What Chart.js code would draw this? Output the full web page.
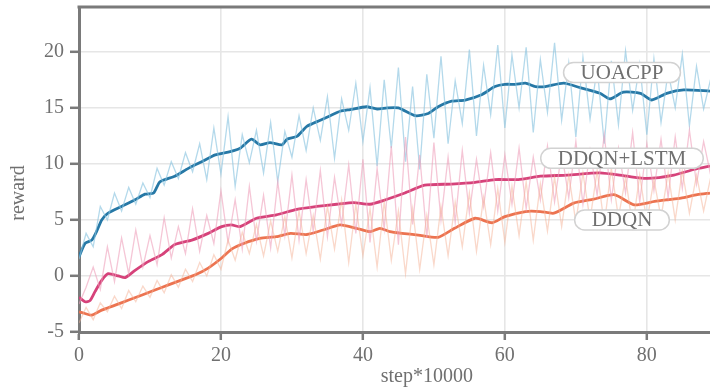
<!DOCTYPE html>
<html>
<head>
<meta charset="utf-8">
<script src="https://cdn.jsdelivr.net/npm/chart.js@4"></script>
<style>
  html, body { margin: 0; padding: 0; background: #fff; }
  #wrap { width: 710px; height: 388px; }
</style>
</head>
<body>
<div id="wrap"><canvas id="c"></canvas></div>
<script>
// 原始資料: 每 1 步 (x10000) 一筆
const steps = Array.from({ length: 90 }, (_, i) => i)

const uoacppRaw = [1.5, 3.8, 2.6, 6.2, 5.0, 7.4, 5.8, 7.9, 6.4, 8.3, 7.0, 9.6, 8.1, 10.2, 8.7, 11.0, 9.3, 11.8, 8.6, 13.2,
  9.1, 14.2, 8.0, 12.6, 10.1, 13.0, 9.2, 13.7, 8.4, 12.9, 10.6, 14.3, 11.2, 15.0, 12.1, 16.0, 10.5, 15.8, 13.0, 17.2,
  12.0, 16.8, 9.8, 17.5, 11.4, 18.6, 10.2, 16.9, 9.5, 18.0, 12.3, 19.6, 11.8, 17.4, 13.6, 20.2, 12.5, 18.8, 14.4, 20.6,
  13.2, 19.7, 15.0, 20.4, 12.8, 19.3, 14.6, 20.8, 13.9, 19.0, 12.4, 19.5, 14.0, 18.6, 11.8, 19.2, 13.5, 20.1, 14.8, 18.9,
  12.6, 19.4, 13.7, 18.2, 15.0, 19.8, 13.4, 18.7, 14.9, 17.6]

const lstmRaw = [-2.5, -1.0, 0.8, -1.2, 2.6, -0.5, 3.4, 0.2, 4.1, 0.8, 3.6, 1.0, 5.2, 1.6, 4.4, 2.0, 6.0, 2.2, 5.4, 2.9,
  7.6, 3.0, 6.8, 2.4, 8.0, 3.1, 7.2, 2.5, 8.4, 3.6, 9.0, 3.2, 8.6, 4.0, 9.4, 3.5, 8.8, 4.6, 9.9, 3.8,
  10.4, 3.0, 9.6, 4.2, 11.6, 2.8, 12.4, 4.6, 10.8, 3.4, 11.9, 5.0, 10.6, 4.8, 11.2, 5.6, 10.4, 6.2, 11.0, 5.8,
  10.8, 6.4, 11.4, 6.0, 10.6, 6.8, 11.6, 6.6, 11.0, 7.0, 12.0, 6.4, 11.2, 7.2, 12.6, 6.8, 11.4, 7.4, 12.8, 6.6,
  11.8, 7.6, 12.2, 7.0, 12.4, 7.8, 13.0, 8.2, 12.0, 9.0]

const ddqnRaw = [-4.2, -2.8, -3.9, -2.4, -3.2, -1.8, -2.9, -1.3, -2.3, -0.9, -1.9, -0.4, -1.5, 0.1, -1.0, 0.6, -0.5, 1.2, 0.0, 1.9,
  0.6, 3.2, 1.4, 3.9, 2.0, 4.6, 1.8, 4.9, 2.2, 5.3, 1.6, 5.8, 2.0, 5.4, 1.5, 6.2, 2.4, 6.8, 1.2, 6.4,
  1.8, 6.0, 0.8, 6.6, 1.4, 5.8, 0.2, 6.0, 0.6, 5.4, 1.0, 6.2, 1.8, 6.6, 2.6, 7.4, 2.2, 7.0, 2.8, 7.8,
  3.0, 8.0, 3.6, 8.4, 3.2, 8.2, 4.0, 8.8, 4.4, 9.0, 4.8, 9.2, 5.0, 9.4, 4.6, 9.6, 5.2, 8.8, 4.4, 9.0,
  4.8, 8.6, 5.2, 9.2, 5.0, 9.4, 5.6, 9.0, 5.8, 8.8]

// 平滑曲線 (x, y)
const uoacppX = [0, 0.85, 1.8, 2.5, 3.2, 4.1, 6.0, 7.9, 9.3, 10.5, 11.4, 13.5, 15.4, 17.3, 19.2, 21.3, 22.7, 24.3, 25.5, 26.9,
  28.6, 29.3, 30.7, 32.1, 34.0, 35.4, 36.8, 38.2, 40.5, 42.0, 43.4, 45.0, 47.4, 49.2, 50.6, 52.5, 54.4, 56.8, 58.6, 60.0,
  61.5, 62.9, 64.3, 65.7, 68.3, 70.6, 73.4, 74.8, 76.7, 79.1, 80.7, 82.8, 85.2, 88.9]
const uoacppY = [1.7, 2.9, 3.2, 4.0, 5.0, 5.6, 6.2, 6.8, 7.3, 7.4, 8.4, 8.9, 9.6, 10.2, 10.8, 11.1, 11.4, 12.2, 11.7, 11.9,
  11.7, 12.2, 12.45, 13.35, 13.9, 14.3, 14.7, 14.85, 15.1, 14.9, 15.0, 15.0, 14.3, 14.5, 15.1, 15.6, 15.7, 16.2, 16.9, 17.1,
  17.1, 17.2, 16.9, 16.9, 17.2, 16.8, 16.3, 15.8, 16.4, 16.3, 15.7, 16.3, 16.6, 16.5]

const lstmX = [0, 0.85, 1.55, 2.25, 3.2, 4.1, 5.55, 6.5, 7.9, 9.8, 11.7, 13.5, 15.9, 18.2, 20.1, 21.5, 22.7, 25.0, 27.8, 30.7,
  33.5, 36.3, 38.7, 41.0, 43.2, 45.9, 48.7, 52.5, 55.8, 58.6, 61.9, 65.0, 68.8, 73.4, 77.2, 80.0, 83.8, 86.6, 88.9]
const lstmY = [-1.9, -2.3, -2.2, -1.4, -0.4, 0.2, 0.0, -0.15, 0.5, 1.3, 1.9, 2.8, 3.2, 3.8, 4.4, 4.55, 4.4, 5.15, 5.45, 5.95,
  6.2, 6.4, 6.55, 6.4, 6.8, 7.4, 8.1, 8.2, 8.35, 8.6, 8.6, 8.9, 9.0, 9.2, 8.9, 8.7, 9.0, 9.5, 9.8]

const ddqnX = [0, 0.85, 1.8, 3.2, 5.1, 7.0, 8.9, 10.7, 12.6, 14.5, 16.4, 18.2, 20.1, 21.5, 23.2, 25.5, 27.8, 29.8, 32.1, 34.4,
  36.8, 39.1, 41.0, 42.4, 43.8, 45.5, 47.8, 50.6, 52.9, 55.8, 58.2, 60.0, 62.9, 65.0, 66.9, 69.7, 72.5, 75.4, 78.2, 81.1,
  82.9, 84.8, 87.1, 88.9]
const ddqnY = [-3.2, -3.35, -3.5, -3.05, -2.6, -2.15, -1.7, -1.25, -0.8, -0.35, 0.1, 0.7, 1.6, 2.4, 2.9, 3.35, 3.5, 3.8, 3.7, 4.1,
  4.55, 4.25, 3.95, 4.25, 3.95, 3.8, 3.65, 3.45, 4.25, 5.15, 4.75, 5.3, 5.75, 5.75, 5.6, 6.5, 6.85, 7.25, 6.35, 6.65,
  6.8, 6.95, 7.25, 7.4]

// 曲線標籤 (名稱, x, y)
const seriesNames = ["UOACPP", "DDQN+LSTM", "DDQN"]
const tagX = [76.5, 76.5, 76.5]
const tagY = [18.15, 10.5, 5.0]

const yTicks = [-5, 0, 5, 10, 15, 20]
const xTicks = [0, 20, 40, 60, 80]

const SERIF = "'Liberation Serif', 'DejaVu Serif', serif"
const AXIS_GRAY = "#7a7a7a"
const TEXT_GRAY = "#707070"

const zip = (xs, ys) => xs.map((x, i) => ({ x, y: ys[i] }))

function rawSet(values, color) {
  return {
    data: zip(steps, values),
    borderColor: color,
    borderWidth: 1.3,
    pointRadius: 0,
    tension: 0,
  }
}

function smoothSet(xs, ys, color) {
  return {
    data: zip(xs, ys),
    borderColor: color,
    borderWidth: 2.8,
    pointRadius: 0,
    tension: 0.2,
  }
}

// 上方邊框 + 軸標題
const framePlugin = {
  id: "frame",
  beforeDatasetsDraw(chart) {
    const { ctx, chartArea } = chart
    ctx.save()
    ctx.strokeStyle = AXIS_GRAY
    ctx.lineWidth = 3
    ctx.beginPath()
    ctx.moveTo(chartArea.left - 1.5, chartArea.top)
    ctx.lineTo(chartArea.right, chartArea.top)
    ctx.stroke()
    ctx.restore()
  },
  afterDraw(chart) {
    const { ctx, scales } = chart
    ctx.save()
    ctx.fillStyle = TEXT_GRAY
    ctx.font = "20px " + SERIF
    ctx.textAlign = "center"
    ctx.textBaseline = "middle"
    ctx.fillText("step*10000", scales.x.getPixelForValue(49), 377)
    ctx.translate(19, 193)
    ctx.rotate(-Math.PI / 2)
    ctx.fillText("reward", 0, 0)
    ctx.restore()
  },
}

// 圓角標籤
const tagPlugin = {
  id: "tags",
  afterDatasetsDraw(chart) {
    const { ctx, scales } = chart
    ctx.save()
    ctx.font = "21px " + SERIF
    ctx.textAlign = "center"
    ctx.textBaseline = "middle"
    seriesNames.forEach((name, i) => {
      const cx = scales.x.getPixelForValue(tagX[i])
      const cy = scales.y.getPixelForValue(tagY[i])
      const w = ctx.measureText(name).width + 34
      const h = 20
      ctx.beginPath()
      ctx.roundRect(cx - w / 2, cy - h / 2, w, h, h / 2)
      ctx.fillStyle = "#ffffff"
      ctx.fill()
      ctx.strokeStyle = "#d2d2d2"
      ctx.lineWidth = 1.5
      ctx.stroke()
      ctx.fillStyle = TEXT_GRAY
      ctx.fillText(name, cx, cy + 1)
    })
    ctx.restore()
  },
}

new Chart(document.getElementById("c"), {
  type: "line",
  data: {
    datasets: [
      rawSet(ddqnRaw, "rgba(246, 178, 150, 0.5)"),
      rawSet(lstmRaw, "rgba(238, 160, 186, 0.6)"),
      rawSet(uoacppRaw, "rgba(140, 196, 224, 0.65)"),
      smoothSet(ddqnX, ddqnY, "#ec7350"),
      smoothSet(lstmX, lstmY, "#d6427a"),
      smoothSet(uoacppX, uoacppY, "#2678a6"),
    ],
  },
  options: {
    responsive: true,
    maintainAspectRatio: false,
    animation: false,
    layout: { padding: { top: 7, right: 0, left: 0, bottom: 0 } },
    plugins: {
      legend: { display: false },
      tooltip: { enabled: false },
    },
    scales: {
      x: {
        type: "linear",
        min: 0,
        max: 88.9,
        afterBuildTicks: (s) => { s.ticks = xTicks.map((v) => ({ value: v })) },
        afterFit: (s) => { s.height = 56; s.paddingLeft = 0; s.paddingRight = 0 },
        ticks: {
          color: TEXT_GRAY,
          font: { family: SERIF, size: 20 },
          padding: 4,
          maxRotation: 0,
        },
        grid: {
          color: "#e6e6e6",
          lineWidth: 1.6,
          tickLength: 8,
          tickColor: AXIS_GRAY,
          tickWidth: 2.5,
        },
        border: { color: AXIS_GRAY, width: 3 },
      },
      y: {
        min: -5,
        max: 24,
        afterBuildTicks: (s) => { s.ticks = yTicks.map((v) => ({ value: v })) },
        afterFit: (s) => { s.width = 79; s.paddingTop = 0; s.paddingBottom = 0 },
        ticks: {
          color: TEXT_GRAY,
          font: { family: SERIF, size: 20 },
          padding: 6,
        },
        grid: {
          color: "#e6e6e6",
          lineWidth: 1.6,
          tickLength: 9,
          tickColor: AXIS_GRAY,
          tickWidth: 2.5,
        },
        border: { color: AXIS_GRAY, width: 3 },
      },
    },
  },
  plugins: [framePlugin, tagPlugin],
})
</script>
</body>
</html>
